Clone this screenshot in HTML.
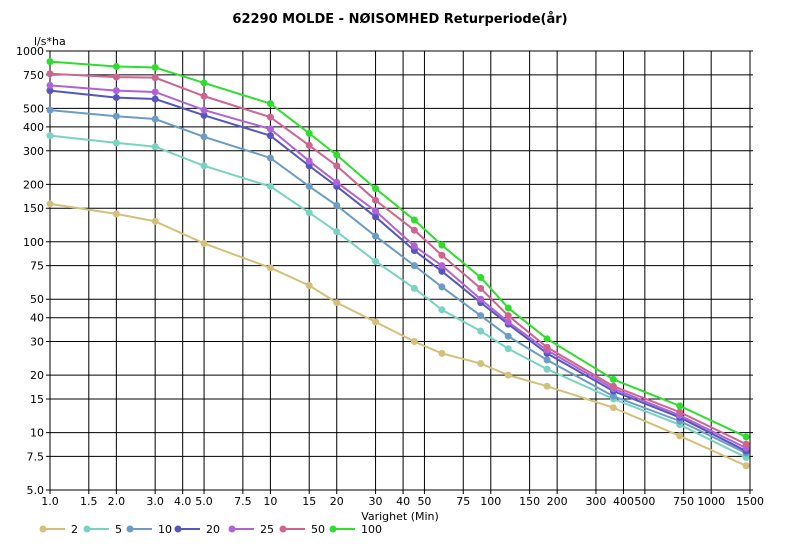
<!DOCTYPE html>
<html><head><meta charset="utf-8"><style>
body{margin:0;background:#fff;}
svg text{font-family:"DejaVu Sans","Liberation Sans",sans-serif;fill:#000;}
</style></head><body>
<svg id="chart" width="800" height="550" xmlns="http://www.w3.org/2000/svg">
<text x="400" y="23" text-anchor="middle" font-size="13" font-weight="bold">62290 MOLDE - NØISOMHED Returperiode(år)</text>
<text x="34" y="45" font-size="11">l/s*ha</text>
<text x="400" y="520" text-anchor="middle" font-size="11">Varighet  (Min)</text>
<g id="grid"></g><g id="series"></g><g id="legend"></g>
</svg>
<script>
const xTicks=[1,1.5,2,3,4,5,7.5,10,15,20,30,40,50,75,100,150,200,300,400,500,750,1000,1500];
const xTickLabels=["1.0","1.5","2.0","3.0","4.0","5.0","7.5","10","15","20","30","40","50","75","100","150","200","300","400","500","750","1000","1500"];
const yTicks=[5,7.5,10,15,20,30,40,50,75,100,150,200,300,400,500,750,1000];
const yTickLabels=["5.0","7.5","10","15","20","30","40","50","75","100","150","200","300","400","500","750","1000"];
const durations=[1,2,3,5,10,15,20,30,45,60,90,120,180,360,720,1440];
const seriesNames=["2","5","10","20","25","50","100"];
const s2=[158,140,128,98,73,59,48,38,30,26,23,20,17.5,13.5,9.6,6.7];
const s5=[360,330,315,250,195,142,113,79,57,44,34,27.5,21.5,15,11,7.4];
const s10=[490,455,440,355,275,195,155,107,75,58,41,32,24,15.5,11.5,7.8];
const s20=[620,570,560,460,360,250,195,135,90,70,48,37,26,16.5,12,8.0];
const s25=[660,620,610,490,390,265,205,145,95,75,50,38,27,17,12.3,8.3];
const s50=[760,730,725,580,450,320,250,165,115,85,57,41,28,17.5,12.8,8.7];
const s100=[880,830,820,680,530,370,285,190,130,96,65,45,31,19,13.8,9.5];
const seriesData=[s2,s5,s10,s20,s25,s50,s100];
const colors=["#d4c07a","#78d4c0","#6c9cc6","#5656bf","#b062d8","#d06490","#2ede2e"];
const NS="http://www.w3.org/2000/svg";
const X0=50,X1=753,Y0=490,Y1=51;
const xs=v=>X0+Math.log10(v)*(700/Math.log10(1500));
const ys=v=>Y0-Math.log10(v/5)*((Y0-Y1)/Math.log10(200));
function mk(tag,attrs,parent){const e=document.createElementNS(NS,tag);for(const k in attrs)e.setAttribute(k,attrs[k]);parent.appendChild(e);return e;}
const grid=document.getElementById('grid');
yTicks.forEach((t,i)=>{
 const l=mk('line',{x1:X0-4,x2:X1,y1:ys(t),y2:ys(t),stroke:'#000','stroke-width':1},grid);
 
 
 const tx=mk('text',{x:X0-6,y:ys(t)+4,'text-anchor':'end','font-size':11},grid);
 tx.textContent=yTickLabels[i];
 
 
});
xTicks.forEach((t,i)=>{
 const l=mk('line',{x1:xs(t),x2:xs(t),y1:Y1,y2:Y0+4,stroke:'#000','stroke-width':1},grid);
 
 
 const tx=mk('text',{x:xs(t),y:Y0+15,'text-anchor':'middle','font-size':11},grid);
 tx.textContent=xTickLabels[i];
 
 
});
const sg=document.getElementById('series');
seriesData.forEach((d,si)=>{
 const g=mk('g',{},sg);
 
 
 const pts=d.map((v,i)=>xs(durations[i])+','+ys(v)).join(' ');
 const pl=mk('polyline',{points:pts,fill:'none',stroke:colors[si],'stroke-width':2},g);
 
 
 d.forEach((v,i)=>{
  const c=mk('circle',{cx:xs(durations[i]),cy:ys(v),r:3.5,fill:colors[si]},g);
  
  
 });
});
const lg=document.getElementById('legend');
const legendX=[43,87,130,178,232,283,333];
seriesNames.forEach((n,i)=>{
 const x=legendX[i];
 const g=mk('g',{},lg);
 
 
 mk('line',{x1:x,x2:x+22,y1:529,y2:529,stroke:colors[i],'stroke-width':2},g);
 mk('circle',{cx:x,cy:529,r:3.5,fill:colors[i]},g);
 const t=mk('text',{x:x+28,y:533,'font-size':11},g);
 t.textContent=n;
});
</script>
</body></html>
